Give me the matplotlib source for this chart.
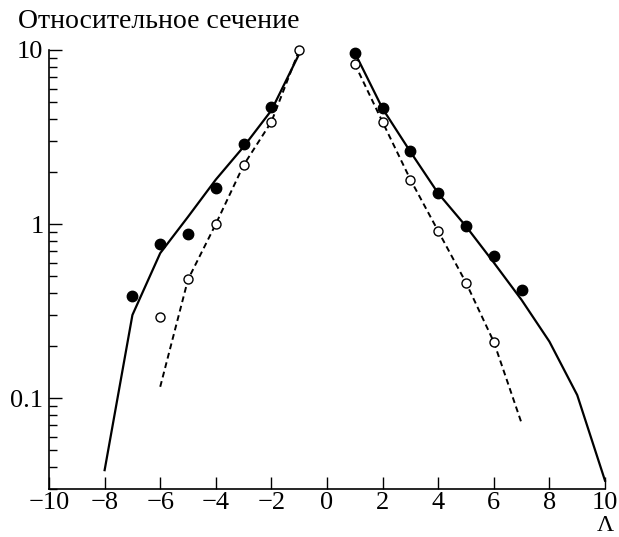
import matplotlib
matplotlib.use("Agg")
import matplotlib.pyplot as plt
from matplotlib.ticker import FixedLocator, FixedFormatter, LogLocator, NullFormatter

# measured points
filled_x = [-7, -6, -5, -4, -3, -2, 1, 2, 3, 4, 5, 6, 7]
filled_y = [0.385, 0.767, 0.877, 1.60, 2.88, 4.69, 9.65, 4.66, 2.64, 1.51, 0.97, 0.652, 0.42]

open_x = [-6, -5, -4, -3, -2, -1, 1, 2, 3, 4, 5, 6]
open_y = [0.292, 0.483, 1.0, 2.18, 3.87, 10.0, 8.31, 3.85, 1.80, 0.91, 0.46, 0.21]

# calculated curves (solid and dashed), left and right branches
solid_left_x = [-8, -7, -6, -5, -4, -3, -2, -1]
solid_left_y = [0.0385, 0.30, 0.68, 1.10, 1.80, 2.78, 4.5, 9.5]
solid_right_x = [1, 2, 3, 4, 5, 6, 7, 8, 9, 10]
solid_right_y = [9.65, 4.6, 2.6, 1.5, 0.97, 0.6, 0.366, 0.211, 0.104, 0.0335]

dash_left_x = [-6, -5, -4, -3, -2, -1]
dash_left_y = [0.116, 0.48, 1.0, 2.18, 3.87, 10.0]
dash_right_x = [1, 2, 3, 4, 5, 6, 7]
dash_right_y = [8.31, 3.85, 1.80, 0.91, 0.46, 0.21, 0.0716]

x_ticks = [-10, -8, -6, -4, -2, 0, 2, 4, 6, 8, 10]
x_labels = ["\u221210", "\u22128", "\u22126", "\u22124", "\u22122", "0", "2", "4", "6", "8", "10"]
y_ticks = [0.1, 1, 10]
y_labels = ["0.1", "1", "10"]

plt.rcParams["font.family"] = ["Liberation Serif", "DejaVu Serif"]

fig = plt.figure(figsize=(6.19, 5.37), dpi=100)
ax = fig.add_axes([0.0792, 0.0894, 0.8982, 0.8175])

ax.plot(solid_left_x, solid_left_y, color="black", lw=1.6, clip_on=False)
ax.plot(solid_right_x, solid_right_y, color="black", lw=1.6, clip_on=False)
ax.plot(dash_left_x, dash_left_y, color="black", lw=1.4, linestyle=(0, (3, 2)), clip_on=False)
ax.plot(dash_right_x, dash_right_y, color="black", lw=1.4, linestyle=(0, (3, 2)), clip_on=False)

ax.plot(filled_x, filled_y, "o", color="black", markersize=7.5, zorder=5, clip_on=False)
ax.plot(open_x, open_y, "o", markerfacecolor="white", markeredgecolor="black",
        markeredgewidth=1.0, markersize=6.5, zorder=6, clip_on=False)

ax.set_yscale("log")
ax.set_xlim(-10, 10)
ax.set_ylim(0.03, 10)

ax.xaxis.set_major_locator(FixedLocator(x_ticks))
ax.xaxis.set_major_formatter(FixedFormatter(x_labels))
ax.yaxis.set_major_locator(FixedLocator(y_ticks))
ax.yaxis.set_major_formatter(FixedFormatter(y_labels))
ax.yaxis.set_minor_locator(LogLocator(base=10, subs=range(2, 10)))
ax.yaxis.set_minor_formatter(NullFormatter())

ax.tick_params(axis="both", which="major", direction="in", length=9, width=1.0,
               labelsize=19, pad=4)
ax.tick_params(axis="x", which="major", pad=2)
ax.tick_params(axis="y", which="minor", direction="in", length=6, width=1.0)

ax.spines["top"].set_visible(False)
ax.spines["right"].set_visible(False)
ax.spines["left"].set_linewidth(1.2)
ax.spines["bottom"].set_linewidth(1.2)

fig.text(0.029, 0.948, "Относительное сечение", fontsize=20, va="baseline", ha="left")
fig.text(0.978, 0.001, "\u039b", fontsize=17, va="bottom", ha="center")

fig.savefig("out.png", dpi=100)
